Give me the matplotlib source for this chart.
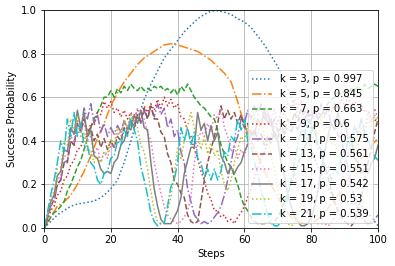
import numpy as np
from matplotlib import pyplot as plt

# success probability of the search vs number of steps, one curve per k
ks = [3, 5, 7, 9, 11, 13, 15, 17, 19, 21]
p_max = [0.997, 0.845, 0.663, 0.6, 0.575, 0.561, 0.551, 0.542, 0.53, 0.539]
styles = [':', '-.', '--', ':', '-.', '--', ':', '-', ':', '-.']

steps_coarse = list(range(0, 101, 2))
steps = list(range(0, 101))

p_k3 = [0, 0.03, 0.06, 0.08, 0.1, 0.11, 0.115, 0.12, 0.13, 0.15,
        0.18, 0.22, 0.3, 0.4, 0.5, 0.59, 0.66, 0.72, 0.78, 0.82,
        0.86, 0.9, 0.93, 0.96, 0.98, 0.995, 0.997, 0.99, 0.98, 0.96,
        0.945, 0.92, 0.88, 0.84, 0.79, 0.74, 0.67, 0.6, 0.52, 0.44,
        0.36, 0.28, 0.21, 0.16, 0.13, 0.12, 0.115, 0.11, 0.09, 0.05, 0.01]

p_k5 = [0, 0.05, 0.1, 0.12, 0.15, 0.2, 0.26, 0.33, 0.41, 0.48,
        0.56, 0.62, 0.67, 0.71, 0.75, 0.78, 0.8, 0.82, 0.84, 0.845,
        0.84, 0.83, 0.82, 0.81, 0.79, 0.77, 0.74, 0.71, 0.67, 0.58,
        0.47, 0.4, 0.33, 0.26, 0.2, 0.14, 0.09, 0.05, 0.03, 0.02,
        0.02, 0.04, 0.07, 0.11, 0.15, 0.2, 0.25, 0.3, 0.34, 0.38, 0.41]

p_k7 = [0, 0.02, 0.05, 0.07, 0.08, 0.1, 0.12, 0.17, 0.2, 0.24,
        0.28, 0.31, 0.36, 0.41, 0.46, 0.5, 0.53, 0.56, 0.6, 0.6,
        0.63, 0.6, 0.64, 0.62, 0.65, 0.63, 0.66, 0.64, 0.63, 0.65,
        0.63, 0.64, 0.63, 0.65, 0.64, 0.65, 0.63, 0.64, 0.62, 0.64,
        0.61, 0.65, 0.63, 0.66, 0.63, 0.6, 0.58, 0.56, 0.55, 0.53,
        0.51, 0.5, 0.45, 0.38, 0.34, 0.3, 0.28, 0.24, 0.2, 0.14,
        0.1, 0.08, 0.05, 0.03, 0.02, 0.02, 0.02, 0.03, 0.02, 0.03,
        0.05, 0.08, 0.12, 0.16, 0.2, 0.25, 0.29, 0.33, 0.37, 0.4,
        0.44, 0.47, 0.5, 0.52, 0.55, 0.57, 0.59, 0.6, 0.62, 0.61,
        0.63, 0.62, 0.64, 0.63, 0.65, 0.63, 0.66, 0.64, 0.65, 0.66, 0.65]

p_k9 = [0, 0.03, 0.08, 0.1, 0.15, 0.17, 0.22, 0.24, 0.29, 0.31,
        0.36, 0.37, 0.42, 0.42, 0.48, 0.47, 0.53, 0.52, 0.58, 0.55,
        0.58, 0.53, 0.55, 0.51, 0.54, 0.5, 0.53, 0.5, 0.54, 0.52,
        0.56, 0.53, 0.57, 0.54, 0.59, 0.55, 0.6, 0.56, 0.59, 0.55,
        0.57, 0.51, 0.5, 0.44, 0.42, 0.36, 0.32, 0.26, 0.22, 0.16,
        0.13, 0.08, 0.08, 0.05, 0.06, 0.03, 0.04, 0.02, 0.05, 0.07,
        0.1, 0.14, 0.18, 0.23, 0.27, 0.32, 0.35, 0.4, 0.42, 0.47,
        0.48, 0.53, 0.52, 0.57, 0.55, 0.59, 0.55, 0.58, 0.53, 0.55,
        0.51, 0.54, 0.5, 0.53, 0.51, 0.55, 0.53, 0.57, 0.55, 0.59,
        0.56, 0.6, 0.56, 0.58, 0.56, 0.57, 0.53, 0.54, 0.5, 0.5, 0.47]

p_k11 = [0, 0.04, 0.1, 0.12, 0.2, 0.22, 0.3, 0.31, 0.4, 0.38,
         0.48, 0.45, 0.55, 0.5, 0.57, 0.48, 0.52, 0.44, 0.48, 0.42,
         0.46, 0.43, 0.47, 0.44, 0.49, 0.45, 0.5, 0.47, 0.52, 0.48,
         0.54, 0.5, 0.56, 0.51, 0.57, 0.52, 0.55, 0.46, 0.5, 0.42,
         0.45, 0.35, 0.3, 0.18, 0.12, 0.06, 0.04, 0.02, 0.03, 0.02,
         0.03, 0.05, 0.07, 0.1, 0.15, 0.22, 0.3, 0.38, 0.42, 0.5,
         0.48, 0.54, 0.5, 0.56, 0.52, 0.57, 0.5, 0.53, 0.46, 0.5,
         0.44, 0.47, 0.43, 0.46, 0.44, 0.48, 0.45, 0.5, 0.47, 0.53,
         0.49, 0.55, 0.5, 0.57, 0.52, 0.55, 0.47, 0.5, 0.42, 0.42,
         0.33, 0.28, 0.2, 0.14, 0.08, 0.05, 0.03, 0.02, 0.03, 0.04, 0.06]

p_k13 = [0, 0.04, 0.1, 0.13, 0.2, 0.22, 0.3, 0.3, 0.4, 0.38,
         0.48, 0.44, 0.5, 0.44, 0.46, 0.4, 0.43, 0.37, 0.41, 0.36,
         0.4, 0.37, 0.42, 0.4, 0.46, 0.43, 0.49, 0.46, 0.52, 0.49,
         0.55, 0.5, 0.56, 0.5, 0.5, 0.44, 0.42, 0.34, 0.3, 0.22,
         0.2, 0.16, 0.14, 0.06, 0.03, 0.02, 0.03, 0.12, 0.22, 0.3,
         0.36, 0.42, 0.48, 0.56, 0.5, 0.54, 0.5, 0.53, 0.48, 0.52,
         0.46, 0.48, 0.42, 0.45, 0.4, 0.43, 0.38, 0.42, 0.39, 0.44,
         0.41, 0.47, 0.44, 0.5, 0.47, 0.53, 0.49, 0.55, 0.5, 0.53,
         0.46, 0.46, 0.38, 0.36, 0.28, 0.24, 0.17, 0.12, 0.08, 0.05,
         0.03, 0.02, 0.01, 0.03, 0.08, 0.14, 0.22, 0.3, 0.36, 0.44, 0.5]

p_k15 = [0, 0.05, 0.1, 0.14, 0.22, 0.24, 0.33, 0.33, 0.42, 0.4,
         0.5, 0.44, 0.48, 0.4, 0.42, 0.34, 0.37, 0.3, 0.35, 0.32,
         0.38, 0.37, 0.44, 0.42, 0.49, 0.46, 0.53, 0.49, 0.55, 0.5,
         0.5, 0.44, 0.4, 0.3, 0.23, 0.16, 0.1, 0.06, 0.04, 0.03,
         0.02, 0.03, 0.05, 0.08, 0.14, 0.3, 0.38, 0.45, 0.42, 0.48,
         0.44, 0.52, 0.5, 0.55, 0.46, 0.42, 0.35, 0.38, 0.32, 0.36,
         0.33, 0.4, 0.38, 0.45, 0.43, 0.5, 0.47, 0.54, 0.5, 0.55,
         0.48, 0.48, 0.4, 0.38, 0.3, 0.25, 0.18, 0.14, 0.09, 0.06,
         0.04, 0.03, 0.02, 0.02, 0.02, 0.01, 0.02, 0.05, 0.1, 0.18,
         0.27, 0.35, 0.41, 0.47, 0.44, 0.5, 0.46, 0.53, 0.48, 0.55, 0.5]

p_k17 = [0, 0.05, 0.12, 0.15, 0.24, 0.26, 0.36, 0.35, 0.46, 0.43,
         0.54, 0.46, 0.53, 0.42, 0.45, 0.33, 0.32, 0.27, 0.25, 0.26,
         0.25, 0.3, 0.32, 0.38, 0.4, 0.46, 0.45, 0.52, 0.48, 0.54,
         0.46, 0.45, 0.3, 0.18, 0.1, 0.04, 0.02, 0.02, 0.02, 0.05,
         0.08, 0.14, 0.25, 0.31, 0.37, 0.37, 0.53, 0.45, 0.48, 0.4,
         0.47, 0.4, 0.44, 0.33, 0.3, 0.25, 0.28, 0.25, 0.28, 0.3,
         0.35, 0.38, 0.44, 0.43, 0.5, 0.47, 0.54, 0.48, 0.5, 0.42,
         0.4, 0.3, 0.24, 0.15, 0.1, 0.05, 0.03, 0.01, 0.01, 0.02,
         0.05, 0.1, 0.17, 0.27, 0.35, 0.42, 0.48, 0.45, 0.53, 0.46,
         0.5, 0.41, 0.42, 0.32, 0.3, 0.25, 0.27, 0.25, 0.3, 0.32, 0.38]

p_k19 = [0, 0.06, 0.13, 0.17, 0.27, 0.28, 0.4, 0.38, 0.5, 0.45,
         0.52, 0.42, 0.44, 0.35, 0.36, 0.3, 0.33, 0.3, 0.35, 0.34,
         0.41, 0.39, 0.46, 0.43, 0.5, 0.46, 0.52, 0.47, 0.46, 0.38,
         0.35, 0.27, 0.17, 0.08, 0.03, 0.02, 0.03, 0.08, 0.14, 0.25,
         0.37, 0.32, 0.4, 0.47, 0.53, 0.46, 0.43, 0.36, 0.42, 0.34,
         0.39, 0.33, 0.36, 0.26, 0.2, 0.17, 0.22, 0.3, 0.36, 0.42,
         0.4, 0.47, 0.44, 0.52, 0.47, 0.5, 0.42, 0.42, 0.33, 0.27,
         0.18, 0.12, 0.06, 0.02, 0.01, 0.02, 0.06, 0.12, 0.2, 0.3,
         0.38, 0.45, 0.43, 0.52, 0.45, 0.47, 0.38, 0.4, 0.32, 0.35,
         0.3, 0.34, 0.33, 0.4, 0.38, 0.46, 0.43, 0.5, 0.46, 0.52, 0.47]

p_k21 = [0, 0.07, 0.15, 0.22, 0.3, 0.4, 0.35, 0.5, 0.42, 0.53,
         0.42, 0.48, 0.38, 0.38, 0.3, 0.28, 0.22, 0.2, 0.25, 0.26,
         0.32, 0.33, 0.4, 0.38, 0.45, 0.42, 0.5, 0.45, 0.4, 0.28,
         0.22, 0.15, 0.07, 0.03, 0.01, 0.02, 0.02, 0.1, 0.19, 0.22,
         0.3, 0.46, 0.4, 0.46, 0.38, 0.44, 0.32, 0.3, 0.23, 0.27,
         0.22, 0.27, 0.22, 0.26, 0.35, 0.33, 0.42, 0.4, 0.5, 0.45,
         0.5, 0.4, 0.38, 0.3, 0.25, 0.17, 0.12, 0.06, 0.03, 0.01,
         0.01, 0.03, 0.08, 0.15, 0.22, 0.3, 0.38, 0.45, 0.42, 0.5,
         0.44, 0.46, 0.36, 0.36, 0.27, 0.28, 0.22, 0.27, 0.25, 0.32,
         0.33, 0.4, 0.38, 0.46, 0.43, 0.5, 0.44, 0.42, 0.35, 0.33, 0.31]

series = [(steps_coarse, p_k3), (steps_coarse, p_k5), (steps, p_k7),
          (steps, p_k9), (steps, p_k11), (steps, p_k13), (steps, p_k15),
          (steps, p_k17), (steps, p_k19), (steps, p_k21)]

fig = plt.figure(figsize=(395 / 72, 266 / 72), dpi=72)
ax = fig.add_axes([44 / 395, 1 - 228 / 266, 334 / 395, 218 / 266])

for (x, y), k, p, ls in zip(series, ks, p_max, styles):
    ax.plot(x, y, linestyle=ls, label="k = {}, p = {}".format(k, p))

ax.set_xlim(0, 100)
ax.set_ylim(0, 1)
ax.set_xlabel("Steps")
ax.set_ylabel("Success Probability")
ax.grid(True)
ax.legend(loc="lower right")

fig.savefig("out.png", dpi=72)
